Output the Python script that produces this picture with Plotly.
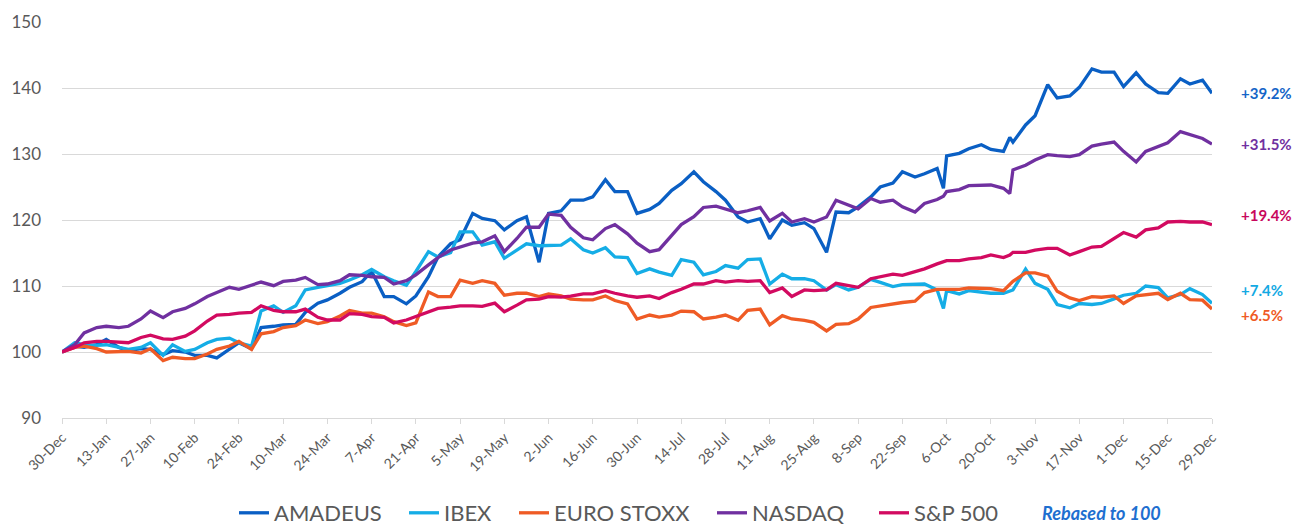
import plotly.graph_objects as go

dates = [
    "2016-12-30", "2017-01-03", "2017-01-06", "2017-01-10", "2017-01-13", "2017-01-17", "2017-01-20",
    "2017-01-24", "2017-01-27", "2017-01-31", "2017-02-03", "2017-02-07", "2017-02-10", "2017-02-14",
    "2017-02-17", "2017-02-21", "2017-02-24", "2017-02-28", "2017-03-03", "2017-03-07", "2017-03-10",
    "2017-03-14", "2017-03-17", "2017-03-21", "2017-03-24", "2017-03-28", "2017-03-31", "2017-04-04",
    "2017-04-07", "2017-04-11", "2017-04-14", "2017-04-18", "2017-04-21", "2017-04-25", "2017-04-28",
    "2017-05-02", "2017-05-05", "2017-05-09", "2017-05-12", "2017-05-16", "2017-05-19", "2017-05-23",
    "2017-05-26", "2017-05-30", "2017-06-02", "2017-06-06", "2017-06-09", "2017-06-13", "2017-06-16",
    "2017-06-20", "2017-06-23", "2017-06-27", "2017-06-30", "2017-07-04", "2017-07-07", "2017-07-11",
    "2017-07-14", "2017-07-18", "2017-07-21", "2017-07-25", "2017-07-28", "2017-08-01", "2017-08-04",
    "2017-08-08", "2017-08-11", "2017-08-15", "2017-08-18", "2017-08-22", "2017-08-25", "2017-08-29",
    "2017-09-01", "2017-09-05", "2017-09-08", "2017-09-12", "2017-09-15", "2017-09-19", "2017-09-22",
    "2017-09-26", "2017-09-29", "2017-10-03", "2017-10-05", "2017-10-06", "2017-10-10", "2017-10-13",
    "2017-10-17", "2017-10-20", "2017-10-24", "2017-10-26", "2017-10-27", "2017-10-31", "2017-11-03",
    "2017-11-07", "2017-11-10", "2017-11-14", "2017-11-17", "2017-11-21", "2017-11-24", "2017-11-28",
    "2017-12-01", "2017-12-05", "2017-12-08", "2017-12-12", "2017-12-15", "2017-12-19", "2017-12-22",
    "2017-12-26", "2017-12-29",
]

amadeus = [
    100, 100.9, 100.7, 101.1, 101.9, 100.7, 100.2, 100.5, 100.4, 99.6, 100.2, 100.0, 99.5, 99.5,
    99.1, 100.5, 101.4, 100.5, 103.7, 103.9, 104.1, 104.2, 106.0, 107.4, 107.9, 108.9, 109.8, 110.65,
    112.2, 108.4, 108.4, 107.3, 108.5, 111.4, 114.4, 116.4, 117.0, 121.0, 120.25, 119.9, 118.5, 119.9,
    120.5, 113.6, 121.0, 121.4, 123.0, 123.0, 123.5, 126.1, 124.3, 124.3, 121.0, 121.6, 122.5, 124.5,
    125.5, 127.3, 125.8, 124.3, 123.0, 120.45, 119.7, 120.2, 117.15, 120.0, 119.2, 119.6, 118.7, 115.1,
    121.2, 121.1, 122.0, 123.5, 125.0, 125.6, 127.3, 126.5, 127.0, 127.8, 124.8, 129.7, 130.1, 130.8,
    131.4, 130.7, 130.4, 132.5, 131.8, 134.4, 135.8, 140.5, 138.5, 138.8, 140.1, 142.9, 142.4, 142.4,
    140.2, 142.3, 140.6, 139.3, 139.2, 141.4, 140.6, 141.2, 139.2,
]

ibex = [
    100, 101.4, 101.1, 101.0, 101.1, 100.7, 100.4, 100.7, 101.4, 99.5, 101.1, 100.1, 100.4, 101.4,
    101.9, 102.1, 101.4, 100.9, 106.2, 107.0, 106.0, 107.0, 109.4, 109.8, 110.1, 110.4, 110.9, 111.7,
    112.5, 111.4, 110.8, 110.1, 112.2, 115.2, 114.4, 115.05, 118.2, 118.2, 116.2, 116.7, 114.2, 115.45,
    116.4, 116.1, 116.1, 116.2, 117.15, 115.5, 115.0, 115.8, 114.4, 114.3, 111.9, 112.6, 112.1, 111.6,
    114.0, 113.6, 111.7, 112.2, 113.1, 112.7, 114.0, 114.1, 110.3, 111.8, 111.1, 111.1, 110.8, 109.4,
    110.2, 109.4, 109.8, 111.0, 110.55, 109.9, 110.2, 110.3, 110.3, 109.4, 106.6, 109.3, 108.8, 109.3,
    109.0, 108.9, 108.9, 109.2, 109.4, 112.55, 110.4, 109.5, 107.2, 106.7, 107.35, 107.2, 107.35, 108.05,
    108.6, 108.9, 110.0, 109.75, 108.2, 108.7, 109.6, 108.7, 107.4,
]

eurostoxx = [
    100, 100.7, 100.9, 100.5, 100.0, 100.0, 100.1, 99.85, 100.5, 98.7, 99.2, 99.0, 99.0, 99.7,
    100.4, 100.9, 101.6, 100.4, 102.75, 103.1, 103.7, 104.0, 104.85, 104.3, 104.6, 105.45, 106.3, 105.9,
    105.9, 105.35, 104.6, 104.0, 104.4, 109.1, 108.4, 108.4, 110.9, 110.4, 110.8, 110.4, 108.6, 108.9,
    108.9, 108.4, 108.8, 108.5, 108.0, 107.9, 107.9, 108.5, 107.8, 107.3, 105.0, 105.6, 105.3, 105.6,
    106.2, 106.1, 105.0, 105.3, 105.6, 104.8, 106.3, 106.5, 104.1, 105.5, 105.0, 104.8, 104.5, 103.2,
    104.2, 104.3, 105.0, 106.75, 107.0, 107.3, 107.5, 107.7, 109.0, 109.5, 109.5, 109.5, 109.5, 109.7,
    109.6, 109.6, 109.3, 110.25, 110.7, 112.0, 112.0, 111.5, 109.2, 108.2, 107.8, 108.4, 108.3, 108.5,
    107.35, 108.5, 108.7, 108.9, 107.95, 108.9, 107.95, 107.85, 106.5,
]

nasdaq = [
    100, 101.1, 102.9, 103.7, 103.9, 103.7, 103.9, 105.0, 106.2, 105.2, 106.1, 106.6, 107.3, 108.4,
    109.0, 109.8, 109.5, 110.1, 110.6, 110.05, 110.7, 110.9, 111.3, 110.2, 110.3, 110.8, 111.7, 111.6,
    111.4, 111.3, 110.3, 110.8, 111.7, 113.2, 114.3, 115.45, 115.9, 116.5, 116.7, 117.6, 115.2, 117.2,
    118.9, 118.9, 120.9, 120.7, 118.9, 117.3, 117.0, 118.7, 119.3, 117.9, 116.5, 115.2, 115.5, 117.7,
    119.3, 120.5, 121.9, 122.1, 121.7, 121.1, 121.4, 121.9, 119.85, 121.0, 119.7, 120.2, 119.7, 120.45,
    123.0, 122.2, 121.7, 123.25, 122.7, 123.0, 122.0, 121.2, 122.5, 123.1, 123.6, 124.3, 124.6, 125.2,
    125.3, 125.3, 124.8, 124.0, 127.6, 128.3, 129.1, 129.9, 129.75, 129.6, 129.9, 131.2, 131.5, 131.8,
    130.4, 128.8, 130.4, 131.2, 131.7, 133.4, 133.0, 132.35, 131.5,
]

sp500 = [
    100, 100.7, 101.4, 101.6, 101.6, 101.5, 101.4, 102.2, 102.55, 102.0, 101.9, 102.4, 103.2, 104.7,
    105.6, 105.7, 105.9, 106.0, 107.0, 106.3, 106.1, 106.1, 106.5, 105.25, 104.85, 104.85, 105.8, 105.7,
    105.35, 105.25, 104.4, 104.85, 105.35, 106.1, 106.6, 106.8, 107.0, 107.0, 106.9, 107.4, 106.1, 107.1,
    107.9, 108.0, 108.4, 108.3, 108.45, 108.8, 108.8, 109.3, 108.9, 108.5, 108.3, 108.5, 108.1, 109.0,
    109.5, 110.3, 110.3, 110.8, 110.6, 110.8, 110.7, 110.8, 109.0, 109.7, 108.4, 109.4, 109.3, 109.4,
    110.4, 110.05, 109.8, 111.1, 111.4, 111.8, 111.6, 112.1, 112.6, 113.35, 113.6, 113.85, 113.85, 114.1,
    114.3, 114.7, 114.3, 114.7, 115.1, 115.1, 115.45, 115.7, 115.7, 114.7, 115.2, 115.9, 116.0, 117.25,
    118.1, 117.4, 118.5, 118.8, 119.7, 119.8, 119.7, 119.7, 119.3,
]

series_names = ["AMADEUS", "IBEX", "EURO STOXX", "NASDAQ", "S&P 500"]
series_values = [amadeus, ibex, eurostoxx, nasdaq, sp500]
series_colors = ["#0a5fc4", "#15ade6", "#ef5b25", "#7030a0", "#d20a60"]

end_labels = ["+39.2%", "+7.4%", "+6.5%", "+31.5%", "+19.4%"]
end_label_colors = ["#1565c8", "#13a9e3", "#ef5b25", "#7030a0", "#c8075c"]
end_label_y = [139.2, 109.4, 105.6, 131.5, 120.8]

tick_dates = [
    "2016-12-30", "2017-01-13", "2017-01-27", "2017-02-10", "2017-02-24", "2017-03-10", "2017-03-24",
    "2017-04-07", "2017-04-21", "2017-05-05", "2017-05-19", "2017-06-02", "2017-06-16", "2017-06-30",
    "2017-07-14", "2017-07-28", "2017-08-11", "2017-08-25", "2017-09-08", "2017-09-22", "2017-10-06",
    "2017-10-20", "2017-11-03", "2017-11-17", "2017-12-01", "2017-12-15", "2017-12-29",
]
tick_labels = [
    "30-Dec", "13-Jan", "27-Jan", "10-Feb", "24-Feb", "10-Mar", "24-Mar", "7-Apr", "21-Apr", "5-May",
    "19-May", "2-Jun", "16-Jun", "30-Jun", "14-Jul", "28-Jul", "11-Aug", "25-Aug", "8-Sep", "22-Sep",
    "6-Oct", "20-Oct", "3-Nov", "17-Nov", "1-Dec", "15-Dec", "29-Dec",
]

# legend entry positions (screen px of each line sample's left end)
legend_x_px = [240, 410, 520, 718, 880]

FONT = "Lato, 'Open Sans', sans-serif"
GRAY = "#595959"
GRID = "#d9d9d9"

# the page body has an 8px default margin, so the figure is drawn 8px smaller
W, H = 1292, 517

fig = go.Figure()
legend_layouts = {}
for i, (name, vals, col) in enumerate(zip(series_names, series_values, series_colors)):
    key = "legend" if i == 0 else "legend%d" % (i + 1)
    fig.add_trace(go.Scatter(
        x=dates, y=vals, name=name, mode="lines",
        line=dict(color=col, width=3.3), legend=key,
    ))
    legend_layouts[key] = dict(
        orientation="h", xref="container", yref="container",
        x=(legend_x_px[i] - 8 - 6) / W, xanchor="left",
        y=1 - (513 - 8) / H, yanchor="middle",
        font=dict(family=FONT, size=22, color=GRAY),
        itemwidth=30, bgcolor="rgba(0,0,0,0)",
    )

for txt, col, yv in zip(end_labels, end_label_colors, end_label_y):
    fig.add_annotation(
        x=1, xref="paper", y=yv, yref="y", xanchor="left", yanchor="middle",
        xshift=27, text="<b>" + txt + "</b>", showarrow=False,
        font=dict(family=FONT, size=15, color=col),
    )

fig.add_annotation(
    x=(1040 - 62) / 1150, xref="paper", y=-(513 - 418) / 396, yref="paper",
    xanchor="left", yanchor="middle",
    text="<b><i>Rebased to 100</i></b>", showarrow=False,
    font=dict(family=FONT, size=18, color="#1e6fd0"),
)

fig.update_layout(
    width=W, height=H,
    margin=dict(l=54, r=88, t=14, b=107, autoexpand=False),
    paper_bgcolor="white", plot_bgcolor="white",
    font=dict(family=FONT, color=GRAY),
    showlegend=True,
    xaxis=dict(
        type="date", automargin=False,
        range=["2016-12-30", "2017-12-29"],
        tickmode="array", tickvals=tick_dates, ticktext=tick_labels,
        tickangle=-45, tickfont=dict(family=FONT, size=14, color=GRAY),
        showgrid=False, showline=True, linecolor=GRID, linewidth=1,
        ticks="outside", ticklen=5, tickcolor=GRID,
        zeroline=False,
    ),
    yaxis=dict(
        range=[90, 150], dtick=10, tick0=90, automargin=False,
        tickfont=dict(family=FONT, size=17, color=GRAY),
        showgrid=True, gridcolor=GRID, gridwidth=1,
        zeroline=False, showline=False, ticks="",
        ticklabelstandoff=20,
    ),
)
fig.update_layout(**legend_layouts)

fig.write_html("out.html")
